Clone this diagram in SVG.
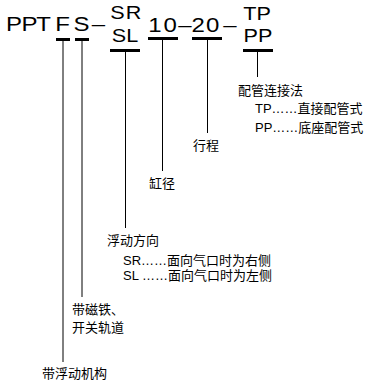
<svg xmlns="http://www.w3.org/2000/svg" width="367" height="387" viewBox="0 0 367 387">
<style>
.code{font-family:"Liberation Sans",Arial,sans-serif;fill:#000;text-anchor:middle}
.big{font-size:20px}
.mid{font-size:18px}
.lbl{font-family:"Liberation Sans","Noto Sans CJK SC",sans-serif;font-size:13px;fill:#000}
.bar{fill:#000}
.ln{stroke:#000;stroke-width:1;fill:none}
</style>
<rect width="367" height="387" fill="#fff"/>
<g id="code">
<g transform="scale(1.2,1)">
<text class="code big" x="11.67" y="31">P</text>
<text class="code big" x="24.58" y="31">P</text>
<text class="code big" x="36.25" y="31">T</text>
<text class="code big" x="52.08" y="31">F</text>
<text class="code big" x="67.92" y="31">S</text>
<text class="code big" x="82.08" y="31">–</text>
<text class="code mid" x="105.4" y="19" letter-spacing="1">SR</text>
<text class="code mid" x="104.2" y="42">SL</text>
<text class="code big" x="136.2" y="32" letter-spacing="1.5">10</text>
<text class="code big" x="154.2" y="32">–</text>
<text class="code big" x="171.7" y="32" letter-spacing="1">20</text>
<text class="code big" x="191.7" y="32">–</text>
<text class="code mid" x="214.2" y="20">TP</text>
<text class="code mid" x="215" y="42">PP</text>
</g>
</g>
<g id="bars">
<rect class="bar" x="56" y="38" width="14" height="3"/>
<rect class="bar" x="75" y="38" width="14" height="3"/>
<rect class="bar" x="110" y="49" width="30" height="3"/>
<rect class="bar" x="148" y="37" width="30" height="3"/>
<rect class="bar" x="192" y="37" width="30" height="3"/>
<rect class="bar" x="243" y="49" width="30" height="3"/>
</g>
<g id="connectors">
<line class="ln" x1="63" y1="41" x2="63" y2="362"/>
<line class="ln" x1="82" y1="41" x2="82" y2="297"/>
<line class="ln" x1="125.5" y1="52" x2="125.5" y2="228"/>
<line class="ln" x1="162.5" y1="40" x2="162.5" y2="171"/>
<line class="ln" x1="207.5" y1="40" x2="207.5" y2="133"/>
<line class="ln" x1="257.5" y1="52" x2="257.5" y2="77"/>
</g>
<g id="node-pipe">
<text class="lbl" x="238" y="95">配管连接法</text>
<text class="lbl" x="255" y="113">TP……直接配管式</text>
<text class="lbl" x="255" y="132">PP……底座配管式</text>
</g>
<g id="node-stroke">
<text class="lbl" x="193" y="150">行程</text>
</g>
<g id="node-bore">
<text class="lbl" x="149" y="188">缸径</text>
</g>
<g id="node-float-dir">
<text class="lbl" x="107" y="245">浮动方向</text>
<text class="lbl" x="123" y="265">SR……面向气口时为右侧</text>
<text class="lbl" x="123" y="280">SL ……面向气口时为左侧</text>
</g>
<g id="node-magnet">
<text class="lbl" x="72" y="314">带磁铁、</text>
<text class="lbl" x="72" y="332">开关轨道</text>
</g>
<g id="node-float">
<text class="lbl" x="42" y="378">带浮动机构</text>
</g>
</svg>
